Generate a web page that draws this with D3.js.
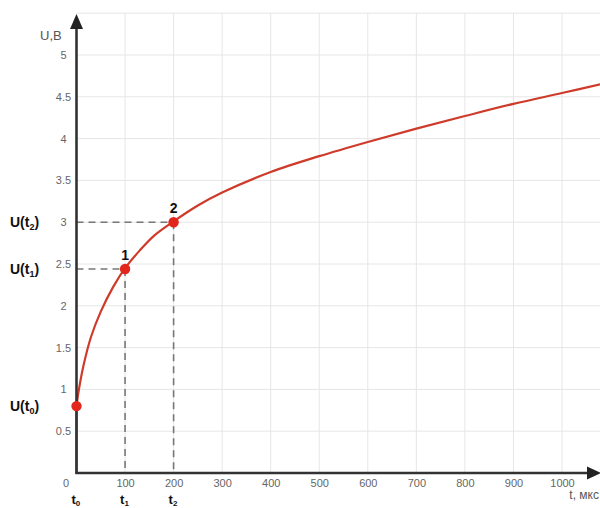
<!DOCTYPE html>
<html>
<head>
<meta charset="utf-8">
<script src="https://cdn.jsdelivr.net/npm/d3@7"></script>
<style>
  html, body { margin: 0; padding: 0; background: #fff; }
  svg { display: block; font-family: "Liberation Sans", Arial, sans-serif; }
</style>
</head>
<body>
<svg id="chart" width="600" height="508"></svg>
<script>
// ---- data ----
const tValues = [0, 5, 15, 30, 50, 75, 100, 130, 160, 200, 250, 300, 400, 500, 600, 700, 800, 900, 1000, 1080];
const uValues = [0.8, 1.0, 1.3, 1.63, 1.93, 2.22, 2.45, 2.66, 2.84, 3.01, 3.2, 3.355, 3.6, 3.79, 3.96, 4.12, 4.27, 4.415, 4.545, 4.65];
const markedT = [0, 100, 200];
const markedU = [0.8, 2.44, 3.0];
const markedNames = ["", "1", "2"];
const leftLabels = ["U(t", "U(t", "U(t"];
const subscripts = ["0", "1", "2"];
const xTicks = [0, 100, 200, 300, 400, 500, 600, 700, 800, 900, 1000];
const yTicks = [0.5, 1, 1.5, 2, 2.5, 3, 3.5, 4, 4.5, 5];
const xGrid = [100, 200, 300, 400, 500, 600, 700, 800, 900, 1000, 1100];
const yGrid = [0.5, 1, 1.5, 2, 2.5, 3, 3.5, 4, 4.5, 5, 5.5];

const svg = d3.select("#chart");
const x = d3.scaleLinear().domain([0, 1000]).range([76.5, 562]);
const y = d3.scaleLinear().domain([0, 5]).range([473, 55]);
const x0 = x(0), y0 = y(0);

// grid
const grid = svg.append("g").attr("stroke", "#e6e6e6").attr("stroke-width", 1);
grid.selectAll(".vg").data(xGrid).enter().append("line")
  .attr("x1", d => x(d)).attr("x2", d => x(d))
  .attr("y1", y(5.5)).attr("y2", y0);
grid.selectAll(".hg").data(yGrid).enter().append("line")
  .attr("x1", x0).attr("x2", 600)
  .attr("y1", d => y(d)).attr("y2", d => y(d));

// dashed guides
const pts = markedT.map((t, i) => ({t, u: markedU[i], name: markedNames[i]}));
const guides = svg.append("g").attr("stroke", "#777").attr("stroke-width", 1.6)
  .attr("stroke-dasharray", "7,5").attr("fill", "none");
pts.slice(1).forEach(p => {
  guides.append("line").attr("x1", x0).attr("x2", x(p.t)).attr("y1", y(p.u)).attr("y2", y(p.u));
  guides.append("line").attr("x1", x(p.t)).attr("x2", x(p.t)).attr("y1", y(p.u)).attr("y2", y0);
});

// axes tick labels via d3 axes
const yAxis = svg.append("g").attr("transform", `translate(${x0},0)`)
  .call(d3.axisLeft(y).tickValues(yTicks).tickSize(0).tickFormat(d3.format("")));
yAxis.select(".domain").remove();
yAxis.selectAll("text").attr("x", -13).attr("text-anchor", "middle")
  .attr("fill", "#666").style("font-size", "11px").style("font-family", "Liberation Sans, Arial, sans-serif");

const xAxis = svg.append("g").attr("transform", `translate(0,${y0})`)
  .call(d3.axisBottom(x).tickValues(xTicks).tickSize(0).tickFormat(d3.format("")));
xAxis.select(".domain").remove();
xAxis.selectAll("text").attr("y", 6)
  .attr("dx", d => d === 0 ? -11 : 0)
  .attr("fill", "#666").style("font-size", "11px").style("font-family", "Liberation Sans, Arial, sans-serif");

// red curve
const curveData = tValues.map((t, i) => [t, uValues[i]]);
svg.append("line").attr("x1", x(tValues[0])).attr("x2", x(tValues[0]))
  .attr("y1", y0).attr("y2", y(uValues[0]))
  .attr("stroke", "#d23a2c").attr("stroke-width", 2.2);
svg.append("path").datum(curveData)
  .attr("d", d3.line().x(d => x(d[0])).y(d => y(d[1])).curve(d3.curveCatmullRom.alpha(0.5)))
  .attr("fill", "none").attr("stroke", "#cf3b2b").attr("stroke-width", 2.2);

// axis lines with arrows
const axisColor = "#333";
svg.append("line").attr("x1", x0).attr("x2", x0).attr("y1", y0 + 1).attr("y2", 26)
  .attr("stroke", axisColor).attr("stroke-width", 2.6);
svg.append("path").attr("d", `M${x0},14 L${x0 - 6.5},29 L${x0 + 6.5},29 Z`).attr("fill", "#222");
svg.append("line").attr("x1", x0 - 1).attr("x2", 590).attr("y1", y0).attr("y2", y0)
  .attr("stroke", axisColor).attr("stroke-width", 2.6);
svg.append("path").attr("d", `M601,${y0} L587,${y0 - 6.5} L587,${y0 + 6.5} Z`).attr("fill", "#222");

// points
svg.append("g").selectAll("circle").data(pts).enter().append("circle")
  .attr("cx", d => x(d.t)).attr("cy", d => y(d.u)).attr("r", 5.2).attr("fill", "#e2261c");
svg.append("g").selectAll("text").data(pts.filter(p => p.name)).enter().append("text")
  .attr("x", d => x(d.t)).attr("y", d => y(d.u) - 9)
  .attr("text-anchor", "middle").attr("font-weight", "bold").attr("font-size", 14)
  .attr("fill", "#111").text(d => d.name);

// axis titles
svg.append("text").attr("x", 40).attr("y", 40).attr("font-size", 13).attr("fill", "#555").text("U,B");
svg.append("text").attr("x", 599).attr("y", 499).attr("text-anchor", "end").attr("font-size", 12)
  .attr("fill", "#555").text("t, мкс");

// left bold labels U(t_i)
pts.forEach((p, i) => {
  const t = svg.append("text").attr("x", 10).attr("y", y(p.u) + 5)
    .attr("font-size", 14).attr("font-weight", "bold").attr("fill", "#111");
  t.append("tspan").text(leftLabels[i]);
  t.append("tspan").attr("font-size", 9).attr("dy", 3).text(subscripts[i]);
  t.append("tspan").attr("dy", -3).text(")");
});

// bottom bold labels t_i
pts.forEach((p, i) => {
  const t = svg.append("text").attr("x", x(p.t) - 5).attr("y", 504)
    .attr("font-size", 13).attr("font-weight", "bold").attr("fill", "#111");
  t.append("tspan").text("t");
  t.append("tspan").attr("font-size", 8).attr("dy", 2).text(subscripts[i]);
});
</script>
</body>
</html>
